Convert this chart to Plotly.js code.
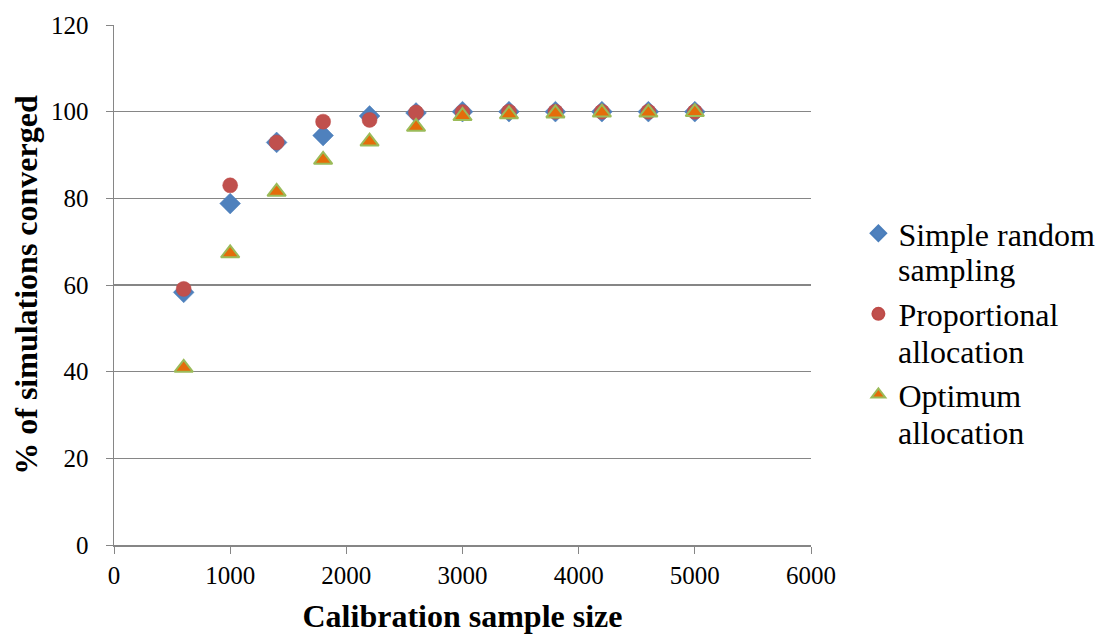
<!DOCTYPE html>
<html><head><meta charset="utf-8">
<script src="https://cdn.plot.ly/plotly-3.0.1.min.js"></script>
<style>body{margin:0;background:#fff}#chart{width:1095px;height:634px}</style>
</head><body><div id="chart"></div>
<script>
const sampleSize = [600, 1000, 1400, 1800, 2200, 2600, 3000, 3400, 3800, 4200, 4600, 5000];
const simpleRandom = [58.3, 78.8, 92.9, 94.5, 99.0, 99.7, 100, 100, 100, 100, 100, 100];
const proportional = [59.1, 83.0, 92.9, 97.7, 98.1, 99.8, 99.9, 100, 100, 100, 100, 100];
const optimum = [40.9, 67.3, 81.5, 88.9, 93.1, 96.5, 99.0, 99.4, 99.6, 99.8, 99.8, 99.9];
const seriesFirstLine = ["Simple random", "Proportional", "Optimum"];
const seriesSecondLine = ["sampling", "allocation", "allocation"];

const font = "Liberation Serif";
const traces = [
  {x: sampleSize, y: simpleRandom, name: seriesFirstLine[0], legendgroup: "a", type: "scatter", mode: "markers",
   marker: {symbol: "diamond", size: 16, color: "#4F81BD", line: {width: 0.5, color: "#4A7EBB"}}},
  {x: sampleSize, y: proportional, name: seriesFirstLine[1], legendgroup: "b", type: "scatter", mode: "markers",
   marker: {symbol: "circle", size: 15, color: "#C0504D", line: {width: 0.5, color: "#BE4B48"}}},
  {x: sampleSize, y: optimum, name: seriesFirstLine[2], legendgroup: "c", type: "scatter", mode: "markers",
   marker: {symbol: "triangle-up", size: 16, color: "#E46C0A", line: {width: 2, color: "#9BBB59"}}}
];
const secondLineY = [0.529, 0.371, 0.215];
const annotations = seriesSecondLine.map((t, i) => ({
  text: t, xref: "paper", yref: "paper", x: 1.1234, y: secondLineY[i], xanchor: "left", yanchor: "middle",
  showarrow: false, borderpad: 0, font: {family: font, size: 32, color: "#000"}
}));
const layout = {
  width: 1095, height: 634,
  margin: {l: 114, r: 284, t: 25, b: 89, autoexpand: false},
  paper_bgcolor: "#fff", plot_bgcolor: "#fff",
  font: {family: font, size: 25, color: "#000"},
  showlegend: true,
  legend: {x: 1.068, y: 0.652, xanchor: "left", yanchor: "top", font: {family: font, size: 32, color: "#000"},
           tracegroupgap: 36, itemsizing: "constant", bgcolor: "rgba(0,0,0,0)", borderwidth: 0},
  annotations: annotations,
  xaxis: {range: [0, 6000], dtick: 1000, tick0: 0, showgrid: false, zeroline: false,
          showline: true, linecolor: "#868686", linewidth: 1.5, ticks: "outside", ticklen: 7, tickcolor: "#868686",
          tickfont: {family: font, size: 25}, fixedrange: true,
          title: {text: "<b>Calibration sample size</b>", font: {family: font, size: 32}, standoff: 18}},
  yaxis: {range: [0, 120], dtick: 20, tick0: 0, showgrid: true, gridcolor: "#868686", gridwidth: 1.5, zeroline: false,
          showline: true, linecolor: "#868686", linewidth: 1.5, ticks: "outside", ticklen: 7, tickcolor: "#868686",
          ticklabelstandoff: 12,
          tickfont: {family: font, size: 25}, fixedrange: true,
          title: {text: "<b>% of simulations converged</b>", font: {family: font, size: 32}, standoff: 4}}
};
Plotly.newPlot("chart", traces, layout, {displayModeBar: false, staticPlot: true});
</script></body></html>
